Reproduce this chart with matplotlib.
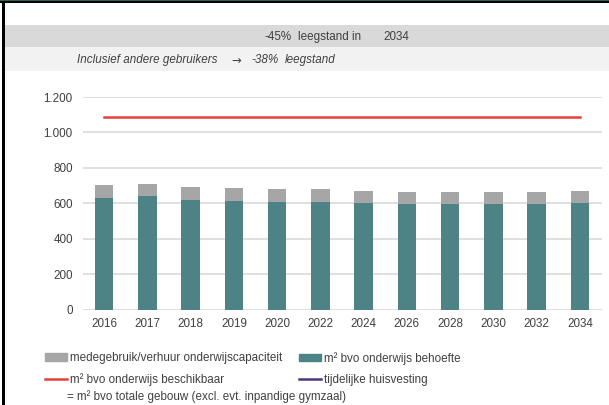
import matplotlib.pyplot as plt
from matplotlib.patches import Rectangle, Patch
from matplotlib.lines import Line2D

# data
years = ['2016', '2017', '2018', '2019', '2020', '2022', '2024', '2026', '2028', '2030', '2032', '2034']
behoefte = [630, 641, 620, 615, 609, 609, 600, 594, 594, 594, 594, 600]
medegebruik = [71, 69, 70, 69, 70, 70, 71, 71, 71, 71, 71, 71]
beschikbaar = [1085] * len(years)

teal = '#4e8385'
grey = '#a6a6a6'
red = '#e8403a'
purple = '#4b3a7a'
txt = '#404040'
W, H = 609, 405

plt.rcParams['font.family'] = ['Liberation Sans', 'DejaVu Sans']
fig = plt.figure(figsize=(W / 100, H / 100), dpi=100, facecolor='white')

# kopregels
fig.patches.append(Rectangle((5 / W, 1 - 47 / H), 1, 22 / H, transform=fig.transFigure,
                             facecolor='#d9d9d9', edgecolor='none', zorder=0))
fig.patches.append(Rectangle((5 / W, 1 - 71 / H), 1, 24 / H, transform=fig.transFigure,
                             facecolor='#f2f2f2', edgecolor='none', zorder=0))
# randen
fig.patches.append(Rectangle((2 / W, 0), 3 / W, 1, transform=fig.transFigure,
                             facecolor='black', edgecolor='none', zorder=5))
fig.patches.append(Rectangle((0, 1 - 3 / H), 1, 2 / H, transform=fig.transFigure,
                             facecolor='black', edgecolor='none', zorder=5))
fig.patches.append(Rectangle((0, 1 - 1 / H), 1, 1 / H, transform=fig.transFigure,
                             facecolor='#2f5f5f', edgecolor='none', zorder=5))

fs = 8.4
fig.text(292 / W, 1 - 37 / H, '-45%', fontsize=fs, color=txt, va='center', ha='right')
fig.text(298 / W, 1 - 37 / H, 'leegstand in', fontsize=fs, color=txt, va='center')
fig.text(383 / W, 1 - 37 / H, '2034', fontsize=fs, color=txt, va='center')
fig.text(77 / W, 1 - 60 / H, 'Inclusief andere gebruikers', fontsize=fs, color=txt,
         va='center', style='italic')
fig.text(241 / W, 1 - 60 / H, '\u2192', fontsize=fs, color=txt, va='center', ha='right',
         family='DejaVu Sans')
fig.text(279 / W, 1 - 60 / H, '-38%', fontsize=fs, color=txt, va='center', ha='right',
         style='italic')
fig.text(285 / W, 1 - 60 / H, 'leegstand', fontsize=fs, color=txt, va='center', style='italic')

ax = fig.add_axes([82.5 / W, 1 - 309.5 / H, (601.5 - 82.5) / W, (309.5 - 97) / H])
x = range(len(years))
ax.bar(x, behoefte, width=0.43, color=teal, zorder=2)
ax.bar(x, medegebruik, bottom=behoefte, width=0.43, color=grey, zorder=2)
ax.plot(x, beschikbaar, color=red, lw=1.8, zorder=3)

ax.set_xlim(-0.5, len(years) - 0.5)
ax.set_ylim(0, 1200)
ax.set_yticks(range(0, 1201, 200))
ax.set_yticklabels(['0', '200', '400', '600', '800', '1.000', '1.200'])
ax.set_xticks(list(x))
ax.set_xticklabels(years)
ax.grid(axis='y', color='#d9d9d9', lw=1.2, zorder=0)
for s in ax.spines.values():
    s.set_visible(False)
ax.tick_params(length=0, labelsize=fs, colors=txt, pad=6)
ax.tick_params(axis='y', pad=7)

leg_kw = dict(loc='upper left', frameon=False, fontsize=fs, labelcolor=txt, handlelength=1.9,
              handleheight=0.6, handletextpad=0.25, labelspacing=0.78, borderpad=0,
              borderaxespad=0)
leg1 = fig.legend([Patch(color=grey), Line2D([], [], color=red, lw=1.8)],
                  ['medegebruik/verhuur onderwijscapaciteit', 'm\u00b2 bvo onderwijs beschikbaar'],
                  bbox_to_anchor=(45 / W, 1 - 352 / H), **leg_kw)
leg2 = fig.legend([Patch(color=teal), Line2D([], [], color=purple, lw=1.8)],
                  ['m\u00b2 bvo onderwijs behoefte', 'tijdelijke huisvesting'],
                  bbox_to_anchor=(299 / W, 1 - 352 / H), **leg_kw)
fig.text(67 / W, 1 - 397 / H, '= m\u00b2 bvo totale gebouw (excl. evt. inpandige gymzaal)',
         fontsize=fs, color=txt, va='center')

plt.savefig('out.png', dpi=100, facecolor='white')
